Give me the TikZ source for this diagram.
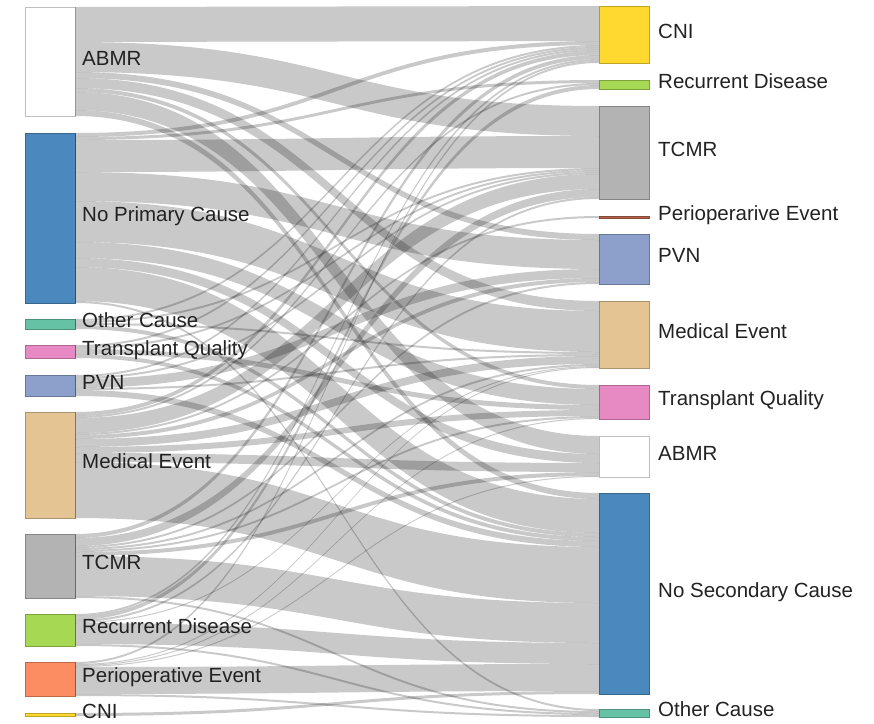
\documentclass[tikz,border=0pt]{standalone}
\usepackage{fontspec}
\setmainfont{Liberation Sans}
\usetikzlibrary{positioning}
\definecolor{abmrcol}{HTML}{FFFFFF}
\definecolor{nocausecol}{HTML}{4A88BD}
\definecolor{othercol}{HTML}{66C2A5}
\definecolor{tqcol}{HTML}{E78AC3}
\definecolor{pvncol}{HTML}{8DA0CB}
\definecolor{medcol}{HTML}{E5C494}
\definecolor{tcmrcol}{HTML}{B3B3B3}
\definecolor{reccol}{HTML}{A6D854}
\definecolor{pericol}{HTML}{FC8D62}
\definecolor{cnicol}{HTML}{FFD92F}
\definecolor{perilinecol}{HTML}{B5634B}
\definecolor{labeltext}{HTML}{222222}
\newcommand{\sankeyflow}[5]{%
  \fill[flowfill] ([yshift=-#2pt]#1.north east)
    .. controls +(262,0) and +(-262,0) .. ([yshift=-#4pt]#3.north west)
    -- ([yshift=-#4pt-#5pt]#3.north west)
    .. controls +(-262,0) and +(262,0) .. ([yshift=-#2pt-#5pt]#1.north east) -- cycle;}

\begin{document}
\begin{tikzpicture}[x=1pt,y=-1pt,
    bar/.style={draw=#1!75!black,fill=#1,anchor=north west,minimum width=50pt,inner sep=0pt,outer sep=0pt,line width=0.5pt},
    lbl/.style={inner sep=0pt,text height=0.716em,text depth=0pt,text=labeltext,font=\fontsize{20.5pt}{24pt}\selectfont},
    flowfill/.style={fill=black,fill opacity=0.21}]
    \useasboundingbox (0,0) rectangle (874,723);

    \begin{scope}
    \draw node at (25,7)[name=abmrL,bar=abmrcol,minimum height=109pt]{};
    \draw node at (25,133)[name=nopcL,bar=nocausecol,minimum height=170pt]{};
    \draw node at (25,319)[name=otherL,bar=othercol,minimum height=10pt]{};
    \draw node at (25,345)[name=tqL,bar=tqcol,minimum height=13pt]{};
    \draw node at (25,375)[name=pvnL,bar=pvncol,minimum height=21pt]{};
    \draw node at (25,412)[name=medL,bar=medcol,minimum height=106pt]{};
    \draw node at (25,534)[name=tcmrL,bar=tcmrcol,minimum height=64pt]{};
    \draw node at (25,614)[name=recL,bar=reccol,minimum height=32pt]{};
    \draw node at (25,662)[name=periL,bar=pericol,minimum height=34pt]{};
    \draw node at (25,713)[name=cniL,bar=cnicol,minimum height=3pt]{};
    \end{scope}

    \begin{scope}
    \draw node at (599,6)[name=cniR,bar=cnicol,minimum height=57pt]{};
    \draw node at (599,80)[name=recR,bar=reccol,minimum height=9pt]{};
    \draw node at (599,106)[name=tcmrR,bar=tcmrcol,minimum height=93pt]{};
    \draw node at (599,216)[name=periR,bar=perilinecol,minimum height=2pt]{};
    \draw node at (599,234)[name=pvnR,bar=pvncol,minimum height=50pt]{};
    \draw node at (599,301)[name=medR,bar=medcol,minimum height=67pt]{};
    \draw node at (599,385)[name=tqR,bar=tqcol,minimum height=34pt]{};
    \draw node at (599,436)[name=abmrR,bar=abmrcol,minimum height=41pt]{};
    \draw node at (599,493)[name=nosecR,bar=nocausecol,minimum height=201pt]{};
    \draw node at (599,709)[name=otherR,bar=othercol,minimum height=8pt]{};
    \end{scope}

    \foreach \src/\sofs/\tgt/\tofs/\wd in {
      abmrL/0/cniR/0/35, abmrL/35/tcmrR/0/30, abmrL/65/pvnR/0/6, abmrL/71/medR/0/10,
      abmrL/81/tqR/0/4, abmrL/85/abmrR/0/18, abmrL/103/nosecR/0/6,
      nopcL/0/cniR/35/4, nopcL/4/recR/0/3, nopcL/7/tcmrR/30/32, nopcL/39/pvnR/6/29,
      nopcL/68/medR/10/41, nopcL/109/tqR/4/16, nopcL/125/abmrR/18/9, nopcL/134/nosecR/6/34,
      nopcL/168/otherR/0/2,
      otherL/0/cniR/39/2, otherL/2/tcmrR/62/2, otherL/4/medR/51/2, otherL/6/nosecR/40/4,
      tqL/0/cniR/41/2, tqL/2/tcmrR/64/2, tqL/4/tqR/20/5, tqL/9/nosecR/44/4,
      pvnL/0/cniR/43/2, pvnL/2/tcmrR/66/2, pvnL/4/pvnR/35/9, pvnL/13/medR/53/2, pvnL/15/nosecR/48/6,
      medL/0/cniR/45/4, medL/4/recR/3/2, medL/6/tcmrR/68/15, medL/21/periR/0/2, medL/23/pvnR/44/4,
      medL/27/medR/55/8, medL/35/tqR/25/6, medL/41/abmrR/27/9, medL/50/nosecR/54/56,
      tcmrL/0/cniR/49/4, tcmrL/4/tcmrR/83/8, tcmrL/12/pvnR/48/2, tcmrL/14/medR/63/2,
      tcmrL/16/tqR/31/2, tcmrL/18/abmrR/36/4, tcmrL/22/nosecR/110/40, tcmrL/62/otherR/2/2,
      recL/0/cniR/53/2, recL/2/recR/5/4, recL/6/tcmrR/91/2, recL/8/medR/65/1,
      recL/9/nosecR/150/21, recL/30/otherR/4/2,
      periL/0/cniR/55/2, periL/2/medR/66/1, periL/3/tqR/33/1, periL/4/abmrR/40/1,
      periL/5/nosecR/171/27, periL/32/otherR/6/2,
      cniL/0/nosecR/198/3}
      {\sankeyflow{\src}{\sofs}{\tgt}{\tofs}{\wd}}

    \draw node[lbl,right=7pt of abmrL,name=abmrLtext]{ABMR};
    \draw node[lbl,right=7pt of nopcL,name=nopcLtext]{No Primary Cause};
    \draw node[lbl,right=7pt of otherL,name=otherLtext]{Other Cause};
    \draw node[lbl,right=7pt of tqL,name=tqLtext]{Transplant Quality};
    \draw node[lbl,right=7pt of pvnL,name=pvnLtext]{PVN};
    \draw node[lbl,right=7pt of medL,name=medLtext]{Medical Event};
    \draw node[lbl,right=7pt of tcmrL,name=tcmrLtext]{TCMR};
    \draw node[lbl,right=7pt of recL,name=recLtext]{Recurrent Disease};
    \draw node[lbl,right=7pt of periL,name=periLtext]{Perioperative Event};
    \draw node[lbl,right=7pt of cniL,name=cniLtext]{CNI};

    \draw node[lbl,right=9pt of cniR,name=cniRtext]{CNI};
    \draw node[lbl,right=9pt of recR,name=recRtext]{Recurrent Disease};
    \draw node[lbl,right=9pt of tcmrR,name=tcmrRtext]{TCMR};
    \draw node[lbl,right=9pt of periR,name=periRtext]{Perioperarive Event};
    \draw node[lbl,right=9pt of pvnR,name=pvnRtext]{PVN};
    \draw node[lbl,right=9pt of medR,name=medRtext]{Medical Event};
    \draw node[lbl,right=9pt of tqR,name=tqRtext]{Transplant Quality};
    \draw node[lbl,right=9pt of abmrR,name=abmrRtext]{ABMR};
    \draw node[lbl,right=9pt of nosecR,name=nosecRtext]{No Secondary Cause};
    \draw node[lbl,right=9pt of otherR,name=otherRtext]{Other Cause};
\end{tikzpicture}
\end{document}
